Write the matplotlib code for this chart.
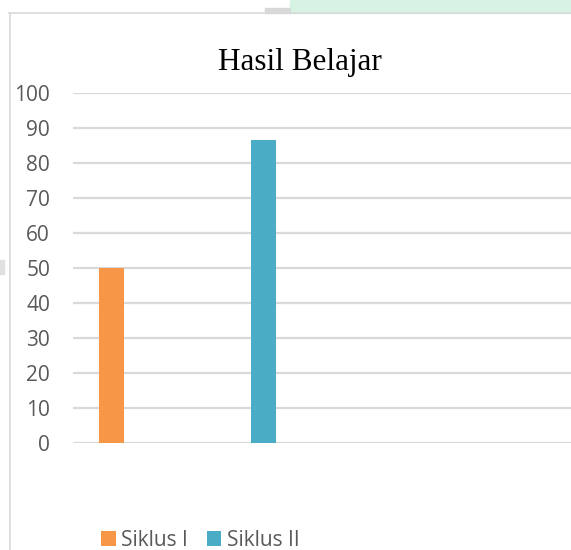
import matplotlib.pyplot as plt
from matplotlib.patches import Rectangle
from matplotlib.lines import Line2D

# -----------------------------------
# DATA
# -----------------------------------

series_names = ["Siklus I", "Siklus II"]
series_values = [50, 86.67]
series_colors = ["#F79646", "#4BACC6"]
y_ticks = [0, 10, 20, 30, 40, 50, 60, 70, 80, 90, 100]

# -----------------------------------
# FIGURE
# -----------------------------------

W, H = 571, 550
fig = plt.figure(figsize=(W / 100, H / 100), dpi=100)

# screenshot frame bits
fig.patches.append(Rectangle((290 / W, 1 - 13 / H), 1, 13 / H, transform=fig.transFigure,
                             color="#d6f3e4", zorder=0))
fig.patches.append(Rectangle((265 / W, 1 - 13 / H), 25 / W, 5 / H, transform=fig.transFigure,
                             color="#d8d8d8", zorder=0))
fig.patches.append(Rectangle((0, 1 - 274 / H), 4 / W, 14 / H, transform=fig.transFigure,
                             color="#e0e0e0", zorder=0))
fig.lines.append(Line2D([9 / W, 1], [1 - 13 / H, 1 - 13 / H], transform=fig.transFigure,
                        color="#d9d9d9", lw=1.2))
fig.lines.append(Line2D([10 / W, 10 / W], [0, 1 - 13 / H], transform=fig.transFigure,
                        color="#d9d9d9", lw=1.2))

ax = fig.add_axes([73 / W, (H - 443) / H, (W - 73) / W, 350 / H])

x_pos = list(range(len(series_names)))
for x, v, c, name in zip(x_pos, series_values, series_colors, series_names):
    ax.bar(x, v, width=25 / 152, color=c, label=name, zorder=3)

ax.set_ylim(0, 100)
ax.set_xlim(-38.5 / 152, -38.5 / 152 + (W - 73) / 152)
ax.set_yticks(y_ticks)
ax.set_xticks([])
ax.grid(axis="y", color="#d9d9d9", linewidth=1.6, zorder=0)
for s in ax.spines.values():
    s.set_visible(False)
ax.tick_params(axis="y", length=0, pad=16.5, labelsize=15, labelcolor="#595959")
for lbl in ax.get_yticklabels():
    lbl.set_fontfamily("Open Sans")

fig.text(300 / W, 1 - 70 / H, "Hasil Belajar", ha="center", va="baseline",
         fontsize=22.5, family="Liberation Serif", color="black")

leg = ax.legend(loc="center left", bbox_to_anchor=(101 / W, 1 - 540 / H),
                bbox_transform=fig.transFigure, ncol=2, frameon=False,
                handlelength=0.7, handleheight=0.7, handletextpad=0.27,
                columnspacing=0.9, borderpad=0, borderaxespad=0,
                prop={"family": "Open Sans", "size": 15})
for t in leg.get_texts():
    t.set_color("#595959")

plt.savefig("out.png", dpi=100)
plt.close()
